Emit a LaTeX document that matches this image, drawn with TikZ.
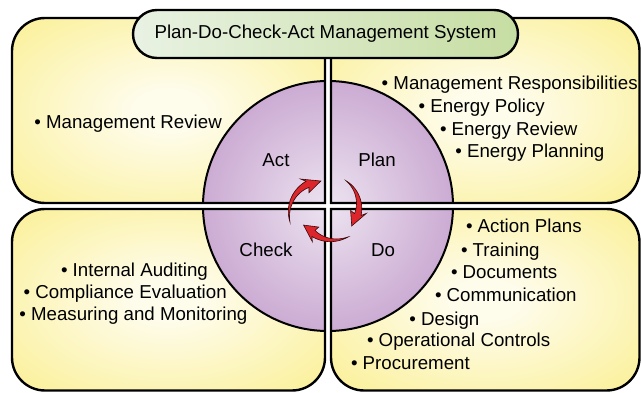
\documentclass[tikz,border=0pt]{standalone}
\usepackage{fontspec}
\setmainfont{Liberation Sans}
\definecolor{pdcayellow}{HTML}{FAEC7E}
\definecolor{pdcalight}{HTML}{FEFCEA}
\definecolor{pdcapurple}{HTML}{C5A0CD}
\definecolor{pdcalilac}{HTML}{ECE3F0}
\definecolor{pdcagreenL}{HTML}{E9F2E3}
\definecolor{pdcagreenR}{HTML}{C6DDA2}
\definecolor{pdcared}{HTML}{DC262C}
\definecolor{pdcaredge}{HTML}{3A0808}
\pgfdeclareradialshading{quadglow}{\pgfpoint{0bp}{0bp}}{color(0bp)=(pdcalight); color(6bp)=(pdcalight); color(44bp)=(pdcayellow); color(72bp)=(pdcayellow)}
\pgfdeclareradialshading{discglow}{\pgfpoint{0bp}{0bp}}{color(0bp)=(pdcalilac); color(30bp)=(pdcapurple); color(50bp)=(pdcapurple)}
\newcommand\pdcafont{\fontsize{18.7}{22}\selectfont}
% one quadrant: yellow panel, its quarter of the disc, outline
\newcommand\pdcaquad[1]{%
  \shade[shading=quadglow] #1;
  \begin{scope}
    \clip #1;
    \shade[shading=discglow] (328,186) circle[radius=125];
    \draw[line width=2pt] (328,186) circle[radius=125];
  \end{scope}
  \draw[line width=2.4pt] #1;}
% curved arrow: #1 centre, #2 tail angle, #3 head angle, #4 tip angle, #5 tail radius, #6 head radius
\newcommand\pdcaarrow[6]{%
  \fill[pdcared, draw=pdcaredge, line width=.6pt, shift={#1}]
    plot[domain=0:1, samples=24] ({(#2)+((#3)-(#2))*\x}:{(#5)+((#6)-(#5))*\x+3.4*\x})
    -- ({(#3)+0.07*((#2)-(#3))}:{(#6)+8}) -- ({#4}:{#6})
    -- ({(#3)+0.07*((#2)-(#3))}:{(#6)-8})
    -- plot[domain=1:0, samples=24] ({(#2)+((#3)-(#2))*\x}:{(#5)+((#6)-(#5))*\x-3.4*\x})
    -- cycle;}
\begin{document}
\begin{tikzpicture}[x=1pt, y=1pt,
    pdcaitem/.style={anchor=base west, inner sep=0pt, font=\pdcafont},
    pdcaphase/.style={anchor=base, inner sep=0pt, font=\pdcafont}]
  \useasboundingbox (0,0) rectangle (641,392);
  % the four panels
  \pdcaquad{(325,189) -- (325,374) -- (45,374) arc[start angle=90, end angle=180, radius=33]
    -- (12,222) arc[start angle=180, end angle=270, radius=33] -- cycle}
  \pdcaquad{(331,189) -- (331,374) -- (606.5,374) arc[start angle=90, end angle=0, radius=33]
    -- (639.5,222) arc[start angle=0, end angle=-90, radius=33] -- cycle}
  \pdcaquad{(325,183) -- (325,34.5) arc[start angle=0, end angle=-90, radius=33]
    -- (45,1.5) arc[start angle=270, end angle=180, radius=33]
    -- (12,150) arc[start angle=180, end angle=90, radius=33] -- cycle}
  \pdcaquad{(331,183) -- (331,34.5) arc[start angle=180, end angle=270, radius=33]
    -- (606.5,1.5) arc[start angle=270, end angle=360, radius=33]
    -- (639.5,150) arc[start angle=0, end angle=90, radius=33] -- cycle}
  % title
  \node[draw, line width=2.4pt, rounded corners=24pt, minimum width=385pt, minimum height=48pt,
    left color=pdcagreenL, right color=pdcagreenR, inner sep=0pt, font=\pdcafont]
    (title) at (325.5,358) {Plan-Do-Check-Act Management System};
  % phases
  \node[pdcaphase] (act) at (276,225.3) {Act};
  \node[pdcaphase] (plan) at (377,225.3) {Plan};
  \node[pdcaphase] (check) at (266,135.3) {Check};
  \node[pdcaphase] (do) at (383,136) {Do};
  % cycle arrows
  \pdcaarrow{(322,178)}{194}{116}{92}{33}{33}
  \pdcaarrow{(328,186)}{55}{-16}{-40}{31}{31}
  \pdcaarrow{(328,186)}{-56}{-118}{-142}{37}{31}
  % act
  \node[pdcaitem] (mgmtreview) at (34.2,263.7) {• Management Review};
  % plan
  \node[pdcaitem] (responsib) at (381.5,302.7) {• Management Responsibilities};
  \node[pdcaitem] (policy) at (418.5,279.3) {• Energy Policy};
  \node[pdcaitem] (review) at (439.8,257) {• Energy Review};
  \node[pdcaitem] (planning) at (455.2,234.7) {• Energy Planning};
  % check
  \node[pdcaitem] (auditing) at (60.8,115.3) {• Internal Auditing};
  \node[pdcaitem] (compliance) at (23.5,93.7) {• Compliance Evaluation};
  \node[pdcaitem] (measuring) at (19.2,71.3) {• Measuring and Monitoring};
  % do
  \node[pdcaitem] (actionplans) at (465.8,159.3) {• Action Plans};
  \node[pdcaitem] (training) at (460.8,136) {• Training};
  \node[pdcaitem] (documents) at (450.8,113.7) {• Documents};
  \node[pdcaitem] (communic) at (434.8,90.3) {• Communication};
  \node[pdcaitem] (design) at (409.2,67) {• Design};
  \node[pdcaitem] (operational) at (366.8,45.3) {• Operational Controls};
  \node[pdcaitem] (procurement) at (350.8,22.7) {• Procurement};
\end{tikzpicture}
\end{document}
